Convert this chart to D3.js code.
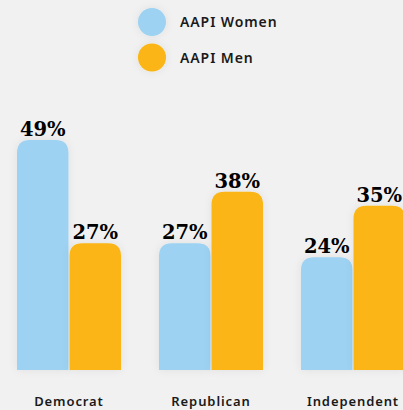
<!DOCTYPE html>
<html>
<head>
<meta charset="utf-8">
<script src="https://cdn.jsdelivr.net/npm/d3@7"></script>
<style>
  body { margin: 0; background: #f1f1f1; }
  svg { display: block; }
</style>
</head>
<body>
<script>
// data
var categories = ["Democrat", "Republican", "Independent"];
var seriesNames = ["AAPI Women", "AAPI Men"];
var women = [49, 27, 24];
var men = [27, 38, 35];
var colors = ["#9dd2f2", "#fbb512"];

var width = 403, height = 410;

var svg = d3.select("body").append("svg")
    .attr("width", width)
    .attr("height", height);

// soft shadow for bars and legend dots
var defs = svg.append("defs");
var f = defs.append("filter").attr("id", "shadow")
    .attr("x", "-30%").attr("y", "-30%").attr("width", "160%").attr("height", "160%");
f.append("feDropShadow").attr("dx", 0).attr("dy", 0)
    .attr("stdDeviation", 4).attr("flood-color", "#000").attr("flood-opacity", 0.07);

// scales
var x0 = d3.scalePoint().domain(categories).range([69, 353]);
var x1 = d3.scaleBand().domain(seriesNames).range([-52, 52]).paddingInner(0.02);
var y = d3.scaleLinear().domain([0, 49]).range([370, 140]);

// path for a bar with rounded top corners
function barPath(x, yTop, w, yBottom, r) {
    r = Math.min(r, (yBottom - yTop), w / 2);
    return "M" + x + "," + yBottom +
        "V" + (yTop + r) +
        "Q" + x + "," + yTop + " " + (x + r) + "," + yTop +
        "H" + (x + w - r) +
        "Q" + (x + w) + "," + yTop + " " + (x + w) + "," + (yTop + r) +
        "V" + yBottom + "Z";
}

var rows = categories.map(function(c, i) {
    return { cat: c, values: [
        { s: seriesNames[0], v: women[i], c: colors[0] },
        { s: seriesNames[1], v: men[i], c: colors[1] }
    ]};
});

var groups = svg.selectAll("g.grp")
    .data(rows)
    .enter().append("g")
    .attr("class", "grp")
    .attr("transform", function(d) { return "translate(" + x0(d.cat) + ",0)"; });

groups.selectAll("path")
    .data(function(d) { return d.values; })
    .enter().append("path")
    .attr("d", function(d) {
        return barPath(x1(d.s), y(d.v), x1.bandwidth(), y(0), 13);
    })
    .attr("fill", function(d) { return d.c; })
    .attr("filter", "url(#shadow)");

groups.selectAll("text.val")
    .data(function(d) { return d.values; })
    .enter().append("text")
    .attr("class", "val")
    .attr("x", function(d) { return x1(d.s) + x1.bandwidth() / 2; })
    .attr("y", function(d) { return y(d.v) - 4; })
    .attr("text-anchor", "middle")
    .style("font-family", "'DejaVu Serif', serif")
    .style("font-weight", "bold")
    .style("font-size", "19.5px")
    .style("fill", "#000")
    .text(function(d) { return d.v + "%"; });

// category labels
groups.append("text")
    .attr("x", 0)
    .attr("y", 406)
    .attr("text-anchor", "middle")
    .style("font-family", "'Noto Sans', sans-serif")
    .style("font-weight", "600")
    .style("font-size", "13px")
    .style("letter-spacing", "0.9px")
    .style("fill", "#1a1a1a")
    .text(function(d) { return d.cat; });

// legend
var legend = svg.selectAll("g.leg")
    .data(seriesNames)
    .enter().append("g")
    .attr("class", "leg")
    .attr("transform", function(d, i) { return "translate(152," + (22 + i * 35.5) + ")"; });

legend.append("circle")
    .attr("r", 14)
    .attr("fill", function(d, i) { return colors[i]; })
    .attr("filter", "url(#shadow)");

legend.append("text")
    .attr("x", 28)
    .attr("y", 5)
    .style("font-family", "'Noto Sans', sans-serif")
    .style("font-weight", "600")
    .style("font-size", "14px")
    .style("letter-spacing", "0.9px")
    .style("fill", "#1a1a1a")
    .text(function(d) { return d; });
</script>
</body>
</html>
